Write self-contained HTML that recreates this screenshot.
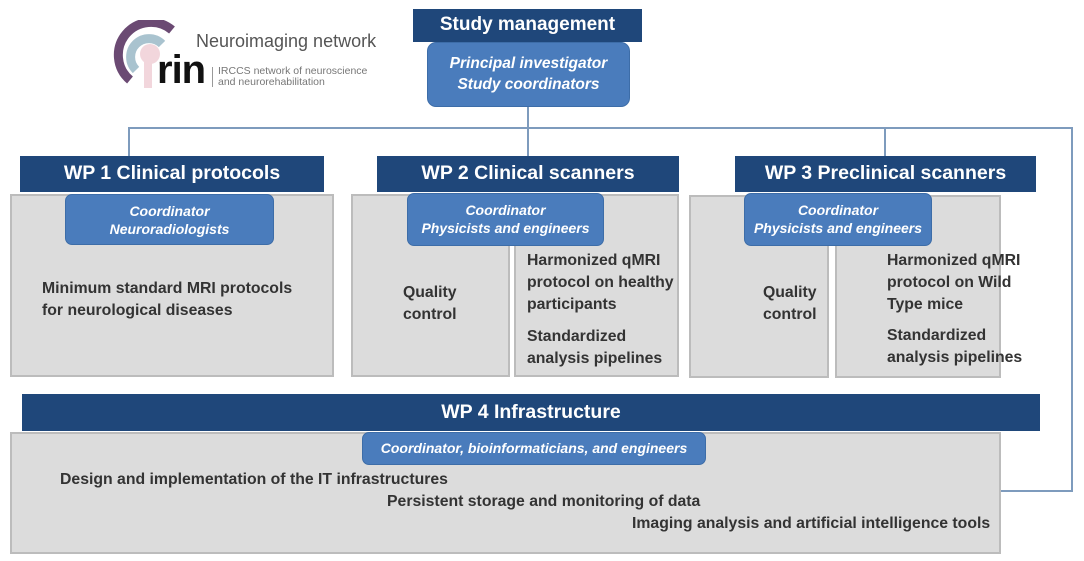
<!DOCTYPE html>
<html><head><meta charset="utf-8">
<style>
body{margin:0;width:1084px;height:561px;background:#fff;position:relative;overflow:hidden;font-family:"Liberation Sans",sans-serif;}
div{position:absolute;box-sizing:border-box;}
.hd{background:#1f477a;color:#fff;font-weight:bold;font-size:19.5px;text-align:center;line-height:35px;white-space:nowrap;}
.gr{background:#dcdcdc;border:2px solid #bcbcbc;}
.co{background:#4a7cbc;color:#fff;font-style:italic;font-weight:bold;font-size:14px;text-align:center;border-radius:7px;line-height:18px;border:1px solid #3d6da8;white-space:nowrap;}
.t{color:#333;font-weight:bold;font-size:15.8px;line-height:22px;white-space:nowrap;}
.ln{background:#7e9bbd;}
</style></head><body>
<!-- connectors -->
<div class="ln" style="left:527px;top:106px;width:2px;height:50px"></div>
<div class="ln" style="left:128px;top:127px;width:945px;height:2px"></div>
<div class="ln" style="left:128px;top:127px;width:2px;height:29px"></div>
<div class="ln" style="left:884px;top:127px;width:2px;height:29px"></div>
<div class="ln" style="left:1071px;top:127px;width:2px;height:365px"></div>
<div class="ln" style="left:1000px;top:490px;width:73px;height:2px"></div>

<!-- logo -->
<svg style="position:absolute;left:110px;top:20px" width="90" height="75">
<path d="M62 10 A30 30 0 1 0 20 60" fill="none" stroke="#6b4a73" stroke-width="9"/>
<path d="M52 24 A18 18 0 1 0 26 50" fill="none" stroke="#a9c3cf" stroke-width="9"/>
<circle cx="40" cy="34" r="10" fill="#f2d6dc"/>
<rect x="34" y="40" width="8" height="28" fill="#f2d6dc"/>
</svg>
<div style="left:157px;top:48px;font-size:40px;font-weight:bold;color:#111;letter-spacing:-1px">rin</div>
<div style="left:212px;top:67px;width:1px;height:20px;background:#999"></div>
<div style="left:196px;top:31px;font-size:18px;color:#555;white-space:nowrap">Neuroimaging network</div>
<div style="left:218px;top:66px;font-size:10.5px;color:#777;line-height:11px;white-space:nowrap">IRCCS network of neuroscience<br>and neurorehabilitation</div>

<!-- study management -->
<div class="hd" style="left:413px;top:9px;width:229px;height:33px;line-height:32px;font-size:19px">Study management</div>
<div class="co" style="left:427px;top:42px;width:203px;height:65px;padding-top:10px;font-size:15.5px;line-height:21px;border-radius:9px">Principal investigator<br>Study coordinators</div>

<!-- WP1 -->
<div class="hd" style="left:20px;top:156px;width:304px;height:36px">WP 1 Clinical protocols</div>
<div class="gr" style="left:10px;top:194px;width:324px;height:183px"></div>
<div class="co" style="left:65px;top:194px;width:209px;height:51px;padding-top:7px">Coordinator<br>Neuroradiologists</div>
<div class="t" style="left:42px;top:278px">Minimum standard MRI protocols<br>for neurological diseases</div>

<!-- WP2 -->
<div class="hd" style="left:377px;top:156px;width:302px;height:36px">WP 2 Clinical scanners</div>
<div class="gr" style="left:351px;top:194px;width:159px;height:183px"></div>
<div class="gr" style="left:514px;top:194px;width:165px;height:183px"></div>
<div class="co" style="left:407px;top:193px;width:197px;height:53px;padding-top:7px">Coordinator<br>Physicists and engineers</div>
<div class="t" style="left:403px;top:282px">Quality<br>control</div>
<div class="t" style="left:527px;top:250px">Harmonized qMRI<br>protocol on healthy<br>participants</div>
<div class="t" style="left:527px;top:326px">Standardized<br>analysis pipelines</div>

<!-- WP3 -->
<div class="hd" style="left:735px;top:156px;width:301px;height:36px">WP 3 Preclinical scanners</div>
<div class="gr" style="left:689px;top:195px;width:140px;height:183px"></div>
<div class="gr" style="left:835px;top:195px;width:166px;height:183px"></div>
<div class="co" style="left:744px;top:193px;width:188px;height:53px;padding-top:7px">Coordinator<br>Physicists and engineers</div>
<div class="t" style="left:763px;top:282px">Quality<br>control</div>
<div class="t" style="left:887px;top:250px">Harmonized qMRI<br>protocol on Wild<br>Type mice</div>
<div class="t" style="left:887px;top:325px">Standardized<br>analysis pipelines</div>

<!-- WP4 -->
<div class="hd" style="left:22px;top:394px;width:1018px;height:37px;line-height:36px">WP 4 Infrastructure</div>
<div class="gr" style="left:10px;top:432px;width:991px;height:122px"></div>
<div class="co" style="left:362px;top:432px;width:344px;height:33px;line-height:30px">Coordinator, bioinformaticians, and engineers</div>
<div class="t" style="left:60px;top:469px">Design and implementation of the IT infrastructures</div>
<div class="t" style="left:387px;top:491px">Persistent storage and monitoring of data</div>
<div class="t" style="left:632px;top:513px">Imaging analysis and artificial intelligence  tools</div>
</body></html>
